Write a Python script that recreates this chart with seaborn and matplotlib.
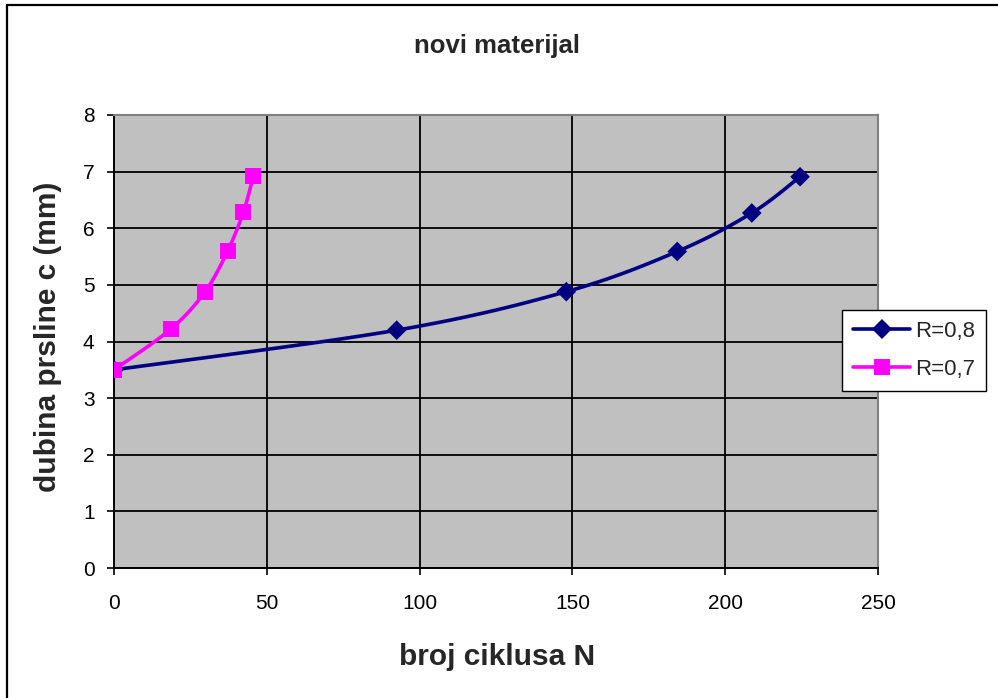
import numpy as np
import matplotlib
matplotlib.use("Agg")
import matplotlib.pyplot as plt
import seaborn as sns
from matplotlib.lines import Line2D

# Crack depth vs number of cycles for two stress ratios
cycles_r08 = [0, 92.5, 148, 184.3, 208.7, 224.5]
depth_r08 = [3.5, 4.2, 4.88, 5.59, 6.27, 6.91]
cycles_r07 = [0, 18.6, 29.8, 37.2, 42.3, 45.6]
depth_r07 = [3.5, 4.22, 4.88, 5.6, 6.28, 6.92]

series_labels = ["R=0,8", "R=0,7"]
x_ticks = [0, 50, 100, 150, 200, 250]
y_ticks = [0, 1, 2, 3, 4, 5, 6, 7, 8]

NAVY = "#000080"
MAGENTA = "#FF00FF"

sns.set_theme(style="white")
plt.rcParams["font.family"] = ["Liberation Sans", "DejaVu Sans"]


def smooth_curve(ax, xs, ys, n=24):
    """Bezier smoothing through the points, computed in screen space."""
    pts = ax.transData.transform(np.column_stack([xs, ys]))
    padded = np.vstack([pts[0], pts, pts[-1]])
    parts = []
    t = np.linspace(0, 1, n)[:, None]
    for i in range(len(pts) - 1):
        p0, p1, p2, p3 = padded[i], padded[i + 1], padded[i + 2], padded[i + 3]
        c1 = p1 + (p2 - p0) / 6.0
        c2 = p2 - (p3 - p1) / 6.0
        seg = ((1 - t) ** 3) * p1 + 3 * ((1 - t) ** 2) * t * c1 \
            + 3 * (1 - t) * (t ** 2) * c2 + (t ** 3) * p2
        parts.append(seg if i == 0 else seg[1:])
    curve = ax.transData.inverted().transform(np.vstack(parts))
    return curve[:, 0], curve[:, 1]


W, H = 998, 698
fig = plt.figure(figsize=(W / 100, H / 100), dpi=100)
fig.patch.set_facecolor("white")

ax = fig.add_axes([114 / W, 1 - 568 / H, (878 - 114) / W, (568 - 115) / H])
ax.set_facecolor("#C0C0C0")
ax.set_xlim(0, 250)
ax.set_ylim(0, 8)
ax.set_xticks(x_ticks)
ax.set_yticks(y_ticks)
ax.grid(True, color="black", linewidth=1.3)
ax.set_axisbelow(True)

for side in ("left", "bottom"):
    ax.spines[side].set_color("black")
    ax.spines[side].set_linewidth(1.4)
for side in ("top", "right"):
    ax.spines[side].set_color("#808080")
    ax.spines[side].set_linewidth(1.5)

ax.tick_params(axis="both", direction="out", length=5, width=1.2,
               color="black", labelsize=15, labelcolor="black")
ax.tick_params(axis="x", pad=14)
ax.tick_params(axis="y", pad=9)
ax.tick_params(left=True, bottom=True)

series = [
    (cycles_r08, depth_r08, NAVY, "D", 100),
    (cycles_r07, depth_r07, MAGENTA, "s", 135),
]
handles = []
for (xs, ys, color, marker, size), label in zip(series, series_labels):
    cx, cy = smooth_curve(ax, xs, ys)
    sns.lineplot(x=cx, y=cy, sort=False, estimator=None, color=color,
                 linewidth=2.6, ax=ax, zorder=3)
    sns.scatterplot(x=xs, y=ys, marker=marker, s=size, color=color,
                    edgecolor="none", linewidth=0, ax=ax, zorder=4)
    handles.append(Line2D([], [], color=color, linewidth=2.6, marker=marker,
                          markersize=np.sqrt(size), markeredgewidth=0,
                          label=label))

ax.set_xlim(0, 250)
ax.set_ylim(0, 8)
ax.set_xlabel("")
ax.set_ylabel("")

leg = ax.legend(handles=handles, loc="upper left",
                bbox_to_anchor=(842 / W, 1 - 310 / H),
                bbox_transform=fig.transFigure, fontsize=16,
                frameon=True, fancybox=False, shadow=False,
                handlelength=2.6, handletextpad=0.2, labelspacing=0.78,
                borderpad=0.48, borderaxespad=0)
leg.get_frame().set_edgecolor("black")
leg.get_frame().set_linewidth(1.0)
leg.get_frame().set_facecolor("white")
leg.get_frame().set_alpha(1)

fig.text(497 / W, 1 - 46 / H, "novi materijal", ha="center", va="center",
         fontsize=18.5, fontweight="bold")
fig.text(497 / W, 1 - 657 / H, "broj ciklusa N", ha="center", va="center",
         fontsize=21.5, fontweight="bold")
fig.text(48 / W, 1 - 337 / H, "dubina prsline c (mm)", ha="center",
         va="center", rotation=90, fontsize=21.5, fontweight="bold")

# chart frame (left and top edges)
fig.add_artist(Line2D([7 / W, 7 / W], [0, 1 - 5 / H], color="black",
                      linewidth=1.6, transform=fig.transFigure))
fig.add_artist(Line2D([7 / W, 1], [1 - 5 / H, 1 - 5 / H], color="black",
                      linewidth=1.6, transform=fig.transFigure))

fig.savefig("out.png", dpi=100)
